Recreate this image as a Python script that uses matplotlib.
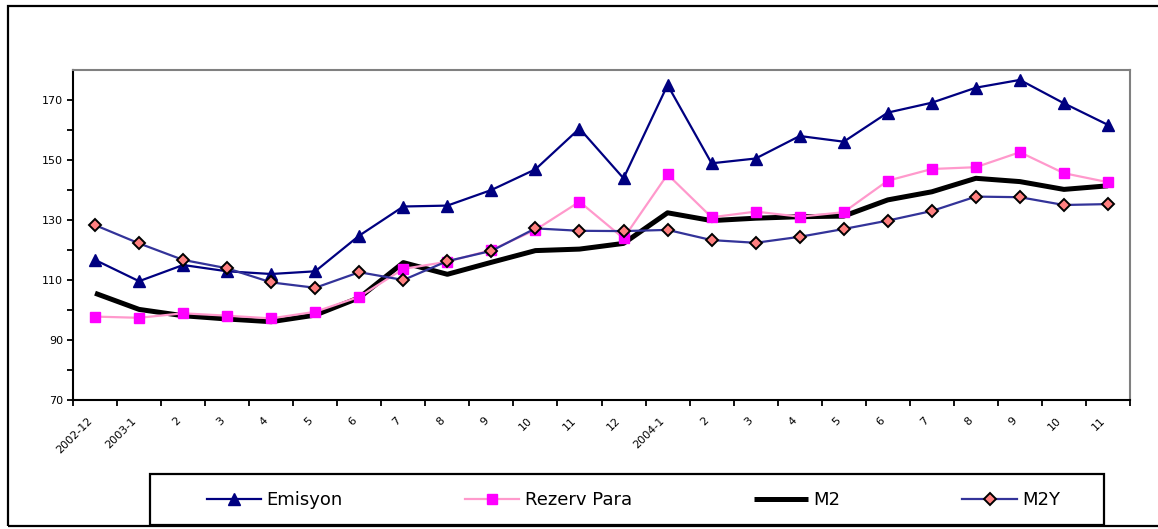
import matplotlib
matplotlib.use("Agg")
import matplotlib.pyplot as plt
from matplotlib.patches import Rectangle
from matplotlib.transforms import ScaledTranslation

categories = ["2002-12", "2003-1", "2", "3", "4", "5", "6", "7", "8", "9", "10", "11", "12",
              "2004-1", "2", "3", "4", "5", "6", "7", "8", "9", "10", "11"]

emisyon = [116.7, 109.6, 115.0, 112.9, 112.0, 112.9, 124.8, 134.5, 134.8, 140.0, 146.9, 160.5,
           143.9, 175.0, 148.9, 150.5, 158.0, 156.1, 165.8, 169.1, 174.1, 176.7, 168.9, 161.7]
rezerv_para = [97.8, 97.4, 98.9, 98.1, 97.2, 99.4, 104.4, 113.7, 116.1, 120.0, 126.7, 136.1,
               123.9, 145.2, 130.9, 132.8, 131.1, 132.6, 143.1, 147.0, 147.6, 152.6, 145.6, 142.6]
m2 = [105.6, 100.2, 98.1, 97.0, 96.1, 98.3, 104.1, 115.8, 111.9, 115.9, 119.8, 120.3,
      122.2, 132.4, 129.8, 130.6, 131.1, 131.3, 136.7, 139.4, 143.9, 142.8, 140.2, 141.4]
m2y = [128.3, 122.2, 116.7, 113.9, 109.2, 107.4, 112.6, 110.0, 116.3, 119.7, 127.2, 126.4,
       126.3, 126.7, 123.3, 122.4, 124.4, 127.0, 129.8, 133.0, 137.8, 137.6, 135.0, 135.3]

series_names = ["Emisyon", "Rezerv Para", "M2", "M2Y"]

W, H = 1158, 529
fig = plt.figure(figsize=(W / 100, H / 100), dpi=100)
fig.patch.set_facecolor("white")

ax = fig.add_axes([73 / W, 1 - 400 / H, (1130 - 73) / W, (400 - 70) / H])
x = list(range(len(categories)))

l1, = ax.plot(x, emisyon, color="#000080", lw=1.6, marker="^", markersize=8,
              markerfacecolor="#000080", markeredgecolor="#000080", zorder=4)
l2, = ax.plot(x, rezerv_para, color="#FF99CC", lw=1.6, marker="s", markersize=7,
              markerfacecolor="#FF00FF", markeredgecolor="#FF00FF", zorder=3)
l3, = ax.plot(x, m2, color="black", lw=3.6, zorder=2, solid_capstyle="butt")
l4, = ax.plot(x, m2y, color="#333399", lw=1.6, marker="D", markersize=6.5,
              markerfacecolor="#FF8080", markeredgecolor="black", markeredgewidth=1.4, zorder=5)

ax.set_xlim(-0.5, len(categories) - 0.5)
ax.set_ylim(70, 180)

ax.set_yticks([70, 90, 110, 130, 150, 170])
ax.set_yticks([80, 100, 120, 140, 160], minor=True)
ax.tick_params(axis="y", which="both", direction="out", length=4, width=1.3, labelsize=8, pad=3)

ax.set_xticks(x)
ax.set_xticklabels(categories, rotation=45, ha="right", rotation_mode="anchor")
ax.set_xticks([i - 0.5 for i in range(len(categories) + 1)], minor=True)
ax.tick_params(axis="x", which="major", length=0, labelsize=8, pad=11)
ax.tick_params(axis="x", which="minor", direction="out", length=4, width=1.3)
shift = ScaledTranslation(-8 / 100, 0, fig.dpi_scale_trans)
for lab in ax.get_xticklabels():
    lab.set_transform(lab.get_transform() + shift)

for s in ["left", "bottom"]:
    ax.spines[s].set_color("black")
    ax.spines[s].set_linewidth(1.5)
for s in ["top", "right"]:
    ax.spines[s].set_color("#808080")
    ax.spines[s].set_linewidth(1.5)

# outer frame
fig.patches.append(Rectangle((8 / W, 3 / H), 1.2, 520 / H,
                             transform=fig.transFigure, fill=False, edgecolor="black", lw=1.6))
# legend box
fig.patches.append(Rectangle((150 / W, 1 - 525 / H), (1104 - 150) / W, (525 - 474) / H,
                             transform=fig.transFigure, fill=False, edgecolor="black", lw=1.6))

leg = fig.legend([l1, l2, l3, l4], series_names, loc="center",
                 bbox_to_anchor=(207 / W, 1 - 500 / H - 0.02, (1060 - 207) / W, 0.04),
                 mode="expand", ncol=4, frameon=False, fontsize=13,
                 handlelength=3.0, handletextpad=0.3, borderaxespad=0, borderpad=0)

fig.savefig("out.png", dpi=100)
